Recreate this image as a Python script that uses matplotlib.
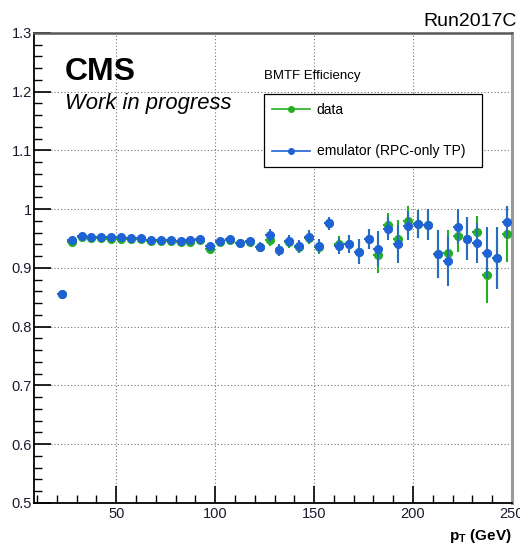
import numpy as np
import matplotlib
matplotlib.use("Agg")
import matplotlib.pyplot as plt
from matplotlib.lines import Line2D

plt.rcParams['font.family'] = ['Liberation Sans', 'DejaVu Sans']
plt.rcParams['mathtext.fontset'] = 'custom'
plt.rcParams['mathtext.rm'] = 'Liberation Sans'
plt.rcParams['mathtext.bf'] = 'Liberation Sans:bold'

# bin centres (GeV), 5 GeV wide bins
pt = [22.5, 27.5, 32.5, 37.5, 42.5, 47.5, 52.5, 57.5, 62.5, 67.5,
      72.5, 77.5, 82.5, 87.5, 92.5, 97.5, 102.5, 107.5, 112.5, 117.5,
      122.5, 127.5, 132.5, 137.5, 142.5, 147.5, 152.5, 157.5, 162.5, 167.5,
      172.5, 177.5, 182.5, 187.5, 192.5, 197.5, 202.5, 207.5, 212.5, 217.5,
      222.5, 227.5, 232.5, 237.5, 242.5, 247.5]
bin_half = 2.5

eff_data = [0.855, 0.945, 0.952, 0.951, 0.951, 0.950, 0.950, 0.949, 0.949, 0.946,
            0.946, 0.946, 0.944, 0.945, 0.948, 0.933, 0.945, 0.947, 0.942, 0.945,
            0.935, 0.948, 0.931, 0.944, 0.936, 0.951, 0.936, 0.976, 0.941, 0.941,
            0.928, 0.950, 0.922, 0.973, 0.949, 0.980, 0.975, 0.974, 0.924, 0.926,
            0.955, 0.950, 0.962, 0.888, 0.917, 0.958]
err_data = [0.002, 0.002, 0.002, 0.002, 0.002, 0.002, 0.002, 0.002, 0.002, 0.003,
            0.003, 0.003, 0.003, 0.003, 0.003, 0.005, 0.005, 0.005, 0.005, 0.005,
            0.008, 0.011, 0.010, 0.010, 0.011, 0.011, 0.012, 0.011, 0.014, 0.015,
            0.021, 0.017, 0.030, 0.020, 0.033, 0.025, 0.024, 0.026, 0.041, 0.038,
            0.028, 0.037, 0.026, 0.048, 0.052, 0.048]

eff_emu = [0.855, 0.947, 0.954, 0.953, 0.953, 0.952, 0.952, 0.951, 0.951, 0.948,
           0.948, 0.948, 0.946, 0.947, 0.950, 0.937, 0.946, 0.949, 0.943, 0.946,
           0.936, 0.956, 0.931, 0.946, 0.937, 0.953, 0.937, 0.976, 0.937, 0.941,
           0.928, 0.950, 0.933, 0.967, 0.941, 0.972, 0.975, 0.974, 0.924, 0.912,
           0.970, 0.950, 0.943, 0.926, 0.917, 0.978]
err_emu = [0.002, 0.002, 0.002, 0.002, 0.002, 0.002, 0.002, 0.002, 0.002, 0.003,
           0.003, 0.003, 0.003, 0.003, 0.003, 0.005, 0.005, 0.005, 0.005, 0.005,
           0.008, 0.011, 0.010, 0.010, 0.011, 0.011, 0.012, 0.011, 0.014, 0.015,
           0.021, 0.017, 0.030, 0.020, 0.033, 0.025, 0.024, 0.026, 0.041, 0.043,
           0.030, 0.037, 0.034, 0.043, 0.052, 0.027]

green = '#22b022'
blue = '#1f62d6'

fig = plt.figure(figsize=(5.2, 5.46), dpi=100)
ax = fig.add_axes([0.0663, 0.0788, 0.9183, 0.8608])

ax.errorbar(pt, eff_data, xerr=bin_half, yerr=err_data, fmt='o', color=green,
            ms=5.5, elinewidth=1.5, capsize=0, zorder=3)
ax.errorbar(pt, eff_emu, xerr=bin_half, yerr=err_emu, fmt='o', color=blue,
            ecolor='#2a6cc0', ms=5.5, elinewidth=1.5, capsize=0, zorder=4)

ax.set_xlim(8.7, 250)
ax.set_ylim(0.5, 1.3)
ax.set_xticks([50, 100, 150, 200, 250])
ax.set_xticks(np.arange(10, 251, 10), minor=True)
ax.set_yticks([0.5, 0.6, 0.7, 0.8, 0.9, 1.0, 1.1, 1.2, 1.3])
ax.set_yticklabels(['0.5', '0.6', '0.7', '0.8', '0.9', '1', '1.1', '1.2', '1.3'])
ax.set_yticks(np.arange(0.5, 1.301, 0.02), minor=True)
ax.tick_params(which='both', direction='in', labelsize=10.5, labelcolor='#1a1a2e')
ax.tick_params(which='major', length=12, width=1.2, pad=3)
ax.tick_params(which='minor', length=6, width=1.0)
ax.tick_params(axis='y', pad=2)
ax.grid(True, which='major', linestyle=(0, (1, 2)), color='0.45', lw=0.8)

ax.spines['left'].set_linewidth(1.3)
ax.spines['bottom'].set_linewidth(1.3)
ax.spines['top'].set_color('0.35')
ax.spines['top'].set_linestyle((0, (1, 1)))
ax.spines['top'].set_linewidth(1.8)
ax.spines['right'].set_color('0.6')
ax.spines['right'].set_linewidth(2.2)

# labels and annotations
fig.text(517 / 520, 1 - 22 / 546, 'Run2017C', ha='right', va='center', fontsize=14)
fig.text(65 / 520, 1 - 80 / 546, 'CMS', ha='left', va='baseline',
         fontsize=23, fontweight='bold')
fig.text(65 / 520, 1 - 109 / 546, 'Work in progress', ha='left', va='baseline',
         fontsize=15.8, style='italic')
fig.text(512 / 520, 1 - 536 / 546, r'p$_\mathbf{T}$ (GeV)', ha='right', va='center',
         fontsize=11, fontweight='bold')
fig.text(264 / 520, 1 - 76 / 546, 'BMTF Efficiency', ha='left', va='center', fontsize=9.5)

handles = [Line2D([], [], color=green, marker='o', ms=4, lw=1.2),
           Line2D([], [], color=blue, marker='o', ms=4, lw=1.2)]
leg = fig.legend(handles, ['data', 'emulator (RPC-only TP)'],
                 bbox_to_anchor=(264 / 520, 1 - 168 / 546, 218 / 520, 75 / 546),
                 loc='center', mode='expand', fontsize=10, frameon=True, fancybox=False,
                 edgecolor='black', framealpha=1, handlelength=2.7, handletextpad=0.5,
                 labelspacing=2.0, borderpad=0.6, borderaxespad=0)
leg.get_frame().set_linewidth(0.9)

fig.savefig('out.png', dpi=100)
